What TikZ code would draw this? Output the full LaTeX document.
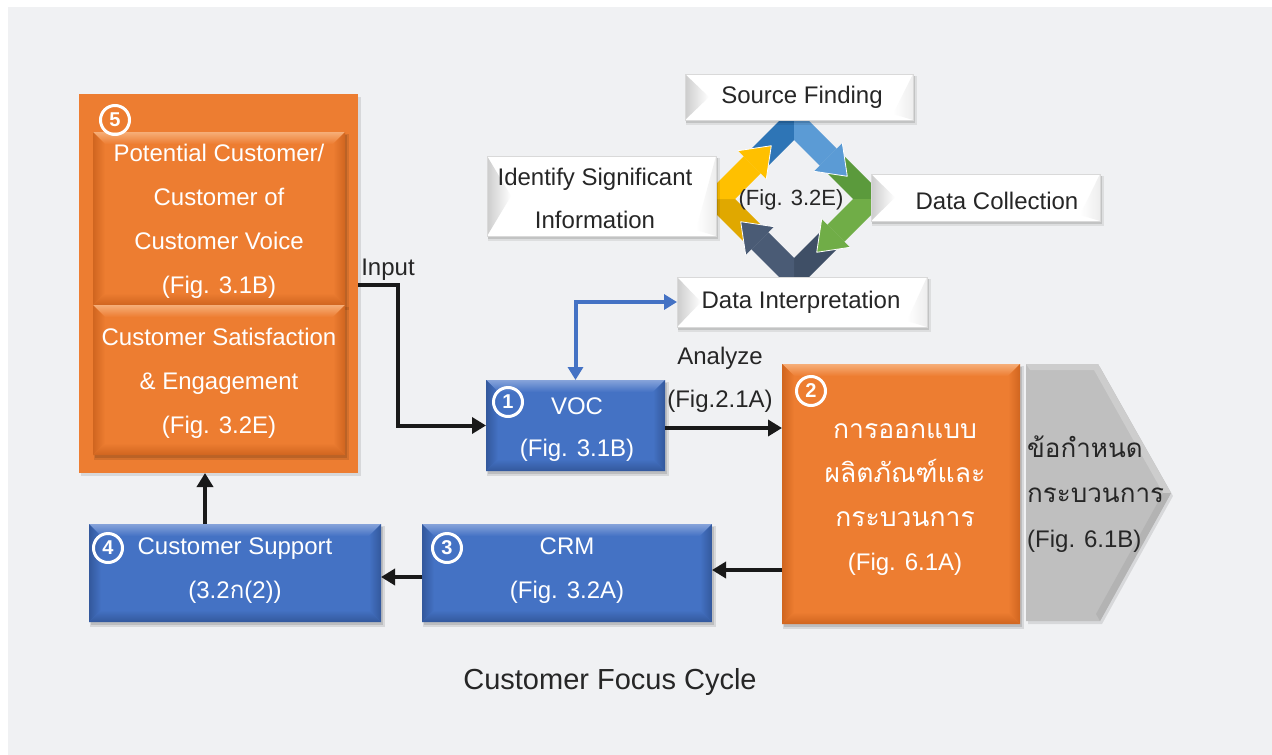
\documentclass[tikz,border=0pt]{standalone}
\usepackage{fontspec}
\setmainfont{Liberation Sans}
\newfontfamily\thaifont[Script=Thai]{Loma}
\usetikzlibrary{arrows.meta,calc}
\definecolor{bg}{RGB}{240,241,243}
\definecolor{orn}{HTML}{ED7D31}
\definecolor{oL}{HTML}{F6AE78}
\definecolor{oD}{HTML}{D0651F}
\definecolor{blu}{HTML}{4472C4}
\definecolor{bL}{HTML}{86A3DA}
\definecolor{bD}{HTML}{33589C}
\definecolor{txt}{HTML}{262626}
\definecolor{gry}{HTML}{BFBFBF}
\definecolor{gL}{HTML}{CDCDCD}
\definecolor{gD}{HTML}{B3B3B3}
\definecolor{cbD}{HTML}{2E75B6}
\definecolor{cbL}{HTML}{5B9BD5}
\definecolor{cgD}{HTML}{5B9A3C}
\definecolor{cgL}{HTML}{70AD47}
\definecolor{cnD}{HTML}{3F4F66}
\definecolor{cnL}{HTML}{4A5B75}
\definecolor{cyD}{HTML}{E0A800}
\definecolor{cyL}{HTML}{FFC000}
\newcommand{\bevbox}[7]{%
 \fill[black,opacity=0.10] ({#1+1},{#2+2}) rectangle ({#3+4},{#4+5});
 \fill[black,opacity=0.12] ({#1+2},{#2+3}) rectangle ({#3+2},{#4+3});
 \fill[#5] (#1,#2) rectangle (#3,#4);
 \shade[top color=#6, bottom color=#5] (#1,#2) -- (#3,#2) -- ({#3-12},{#2+12}) -- ({#1+12},{#2+12}) -- cycle;
 \shade[left color=#7, right color=#5] (#1,#2) -- ({#1+12},{#2+12}) -- ({#1+12},{#4-12}) -- (#1,#4) -- cycle;
 \shade[left color=#5, right color=#7] (#3,#2) -- ({#3-12},{#2+12}) -- ({#3-12},{#4-12}) -- (#3,#4) -- cycle;
 \shade[top color=#5, bottom color=#7] (#1,#4) -- ({#1+12},{#4-12}) -- ({#3-12},{#4-12}) -- (#3,#4) -- cycle;
}
\newcommand{\wbox}[4]{%
 \fill[black,opacity=0.08] ({#1+1},{#2+2}) rectangle ({#3+4},{#4+5});
 \fill[black,opacity=0.12] ({#1+1},{#2+2}) rectangle ({#3+2},{#4+3});
 \fill[white] (#1,#2) rectangle (#3,#4);
 \shade[left color=black!20, right color=white] (#1,#2) -- ({#1+24},{(#2+#4)/2}) -- (#1,#4) -- cycle;
 \shade[left color=white, right color=black!7] (#3,#2) -- ({#3-20},{#4-6}) -- (#3,#4) -- cycle;
 \draw[black!15, line width=0.8pt] (#1,#2) rectangle (#3,#4);
}
\begin{document}
\begin{tikzpicture}[x=1pt,y=-1pt,
  tx/.style={font=\fontsize{24}{44}\selectfont, align=center, inner sep=0pt},
  wt/.style={tx, text=white},
  dk/.style={tx, text=txt},
  area/.style={inner sep=0pt, outer sep=0pt, draw=none},
  num/.style={circle, draw=white, line width=3pt, minimum size=29pt, inner sep=0pt, text=white, font=\fontsize{20}{20}\selectfont\bfseries},
  arr/.style={line width=4pt, draw=black!90, -{Triangle[length=14pt,width=16pt]}},
  barr/.style={line width=4pt, draw=blu, {Triangle[length=13pt,width=15pt]}-{Triangle[length=13pt,width=15pt]}}
]
\useasboundingbox (0,0) rectangle (1272,755);
\fill[white] (0,0) rectangle (1272,755);
\fill[bg] (8,7) rectangle (1272,755);

% ---- box 5
\fill[black,opacity=0.10] (81,97) rectangle (361,476);
\fill[orn] (79,94) rectangle (358,473);
\node[area, minimum width=279pt, minimum height=379pt] (big5) at (218.5,283.5) {};
\bevbox{93}{132}{345}{305}{orn}{oL}{oD}
\bevbox{93}{305}{345}{455}{orn}{oL}{oD}
\node[area, minimum width=252pt, minimum height=173pt] (pot) at (219,218.5) {};
\node[area, minimum width=252pt, minimum height=150pt] (sat) at (219,380) {};
\node[wt] (pott) at (219,221) {Potential Customer/\\Customer of\\Customer Voice\\(Fig. 3.1B)};
\node[wt] (satt) at (219,383) {Customer Satisfaction\\\& Engagement\\(Fig. 3.2E)};
\node[num] (n5) at (115,120) {5};

% ---- VOC
\bevbox{486}{380}{665}{471}{blu}{bL}{bD}
\node[area, minimum width=179pt, minimum height=91pt] (voc) at (575.5,425.5) {};
\node[wt, font=\fontsize{24}{42}\selectfont] (voct) at (577,430) {VOC\\(Fig. 3.1B)};
\node[num] (n1) at (508,402) {1};

% ---- design
\bevbox{782}{364}{1020}{624}{orn}{oL}{oD}
\node[area, minimum width=238pt, minimum height=260pt] (design) at (901,494) {};
\node[wt, font=\thaifont\fontsize{26.5}{44}\selectfont] (dest) at (905,500) {การออกแบบ\\ผลิตภัณฑ์และ\\กระบวนการ\\{\rmfamily\fontsize{24}{44}\selectfont (Fig. 6.1A)}};
\node[num] (n2) at (811,391) {2};

% ---- chevron
\fill[black,opacity=0.10] (1028,367) -- (1100,367) -- (1173,496) -- (1102,624) -- (1028,624) -- cycle;
\fill[gry] (1026,364) -- (1098,364) -- (1171,493) -- (1100,621) -- (1026,621) -- cycle;
\fill[gL] (1026,364) -- (1098,364) -- (1171,493) -- (1163,493) -- (1094,370) -- (1030,370) -- cycle;
\fill[gD] (1171,493) -- (1100,621) -- (1096,614) -- (1163,493) -- cycle;
\node[area, minimum width=145pt, minimum height=257pt] (spec) at (1098.5,492.5) {};
\node[dk, align=left, anchor=west, font=\thaifont\fontsize{26}{45}\selectfont] (spect) at (1027,494) {ข้อกำหนด\\กระบวนการ\\{\rmfamily\fontsize{24}{45}\selectfont (Fig. 6.1B)}};

% ---- CRM
\bevbox{422}{524}{712}{622}{blu}{bL}{bD}
\node[area, minimum width=290pt, minimum height=98pt] (crm) at (567,573) {};
\node[wt] (crmt) at (567,571) {CRM\\(Fig. 3.2A)};
\node[num] (n3) at (447,548) {3};

% ---- Customer support
\bevbox{89}{524}{381}{622}{blu}{bL}{bD}
\node[area, minimum width=292pt, minimum height=98pt] (cs) at (235,573) {};
\node[wt] (cst) at (235,571) {Customer Support\\(3.2{\thaifont ก}(2))};
\node[num] (n4) at (108,548) {4};

% ---- black connectors
\coordinate (inbend) at (398,285);
\draw[arr] (big5.east |- inbend) -- (inbend) |- (voc.west);
\node[dk] (inlab) at (388,270) {Input};
\coordinate (anl) at (0,428);
\draw[arr] (voc.east |- anl) -- (design.west |- anl);
\node[dk, font=\fontsize{24}{43}\selectfont] (anlab) at (720,380) {Analyze\\(Fig.2.1A)};
\coordinate (dcl) at (0,570);
\draw[arr] (design.west |- dcl) -- (crm.east |- dcl);
\coordinate (ccl) at (0,577);
\draw[arr] (crm.west |- ccl) -- (cs.east |- ccl);
\coordinate (upl) at (205,0);
\draw[arr] (cs.north -| upl) -- (big5.south -| upl);

% ---- cycle arrows
\begin{scope}[shift={(794,199)}]
\foreach \r/\cd/\cl in {0/cbD/cbL,-90/cgD/cgL,-180/cnD/cnL,-270/cyD/cyL}{
  \begin{scope}[rotate=\r]
    \fill[\cd] (-46.5,-46.5) -- (0,-93) -- (0,-59) -- (-29.5,-29.5) -- cycle;
    \fill[\cl] (0,-93) -- (42.7,-50.3) -- (25.7,-33.3) -- (0,-59) -- cycle;
  \end{scope}}
\foreach \r/\cl in {0/cbL,-90/cgL,-180/cnL,-270/cyL}{
  \begin{scope}[rotate=\r]
    \fill[\cl] (48.3,-55.9) -- (53.3,-22.7) -- (20.1,-27.7) -- cycle;
    \draw[white, line width=0.8pt, line join=round] (48.3,-55.9) -- (53.3,-22.7) -- (20.1,-27.7);
  \end{scope}}
\end{scope}
\node[dk, font=\fontsize{22}{22}\selectfont] (cyct) at (791,200) {(Fig. 3.2E)};

% ---- white boxes
\wbox{685}{74}{913}{120}
\node[area, minimum width=228pt, minimum height=46pt] (src) at (799,97) {};
\node[dk] (srct) at (802,97) {Source Finding};
\wbox{487}{156}{716}{236}
\node[area, minimum width=229pt, minimum height=80pt] (ident) at (601.5,196) {};
\node[dk, font=\fontsize{24}{43}\selectfont] (identt) at (595,198) {Identify Significant\\Information};
\wbox{871}{174}{1100}{221}
\node[area, minimum width=229pt, minimum height=47pt] (coll) at (985.5,197.5) {};
\node[dk] (collt) at (997,201) {Data Collection};
\wbox{677}{277}{927}{327}
\node[area, minimum width=250pt, minimum height=50pt] (interp) at (802,302) {};
\node[dk] (interpt) at (801,302) {Data Interpretation};

% ---- blue connector
\draw[barr] (voc.north) |- (interp.west);

% ---- caption
\node[dk, font=\fontsize{29}{29}\selectfont] (cap) at (610,682) {Customer Focus Cycle};
\end{tikzpicture}
\end{document}
